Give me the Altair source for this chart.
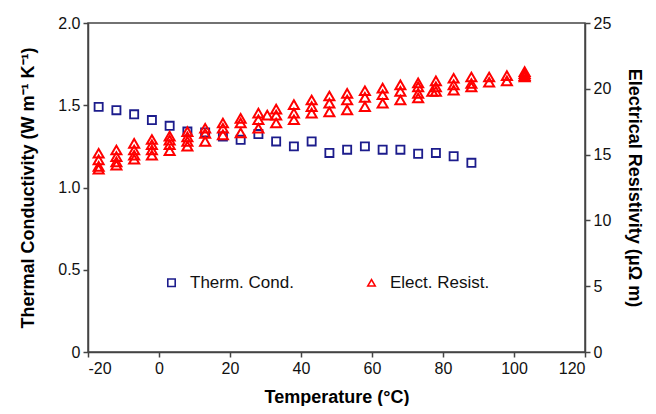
import altair as alt
import pandas as pd

# Thermal conductivity (left axis)
therm_temp = [-17, -12, -7, -2, 3, 8, 13, 18, 23, 28, 33, 38, 43, 48, 53, 58, 63, 68, 73, 78, 83, 88]
therm_val = [1.49, 1.47, 1.445, 1.41, 1.375, 1.34, 1.335, 1.31, 1.29, 1.325, 1.28, 1.25,
             1.28, 1.21, 1.23, 1.25, 1.23, 1.23, 1.205, 1.21, 1.19, 1.15]

# Electrical resistivity (right axis), several runs
res_temp = [
    -17, -17, -17, -17,
    -12, -12, -12, -12,
    -7, -7, -7, -7,
    -2, -2, -2, -2,
    3, 3, 3, 3,
    8, 8, 8, 8,
    13, 13, 13,
    18, 18, 18,
    23, 23, 23,
    28, 28, 28, 30.5,
    33, 33, 33,
    38, 38, 38,
    43, 43, 43,
    48, 48, 48,
    53, 53, 53,
    58, 58, 58,
    63, 63, 63,
    68, 68, 68,
    73, 73, 73, 73,
    77, 78, 78, 78,
    83, 83, 83,
    88, 88, 88,
    93, 93,
    98, 98,
    103, 103, 103, 103,
]
res_val = [
    15.1, 14.6, 14.1, 13.9,
    15.35, 14.85, 14.45, 14.2,
    15.85, 15.35, 14.95, 14.65,
    16.15, 15.75, 15.35, 14.95,
    16.4, 16.1, 15.75, 15.3,
    16.75, 16.35, 16.0, 15.65,
    17.0, 16.6, 16.0,
    17.4, 17.0, 16.5,
    17.75, 17.4, 16.65,
    18.15, 17.65, 17.0, 18.0,
    18.45, 18.0, 17.4,
    18.8, 18.15, 17.65,
    19.15, 18.65, 18.15,
    19.45, 18.9, 18.25,
    19.65, 19.15, 18.4,
    19.85, 19.35, 18.65,
    20.05, 19.55, 18.9,
    20.3, 19.8, 19.15,
    20.45, 20.15, 19.65, 19.3,
    19.8, 20.6, 20.15, 19.8,
    20.8, 20.3, 19.9,
    20.9, 20.4, 20.15,
    20.9, 20.5,
    21.0, 20.6,
    21.3, 21.15, 21.0, 20.9,
]

series_names = ["Therm. Cond.", "Elect. Resist."]

therm_df = pd.DataFrame({"T": therm_temp, "v": therm_val, "series": series_names[0]})
res_df = pd.DataFrame({"T": res_temp, "v": res_val, "series": series_names[1]})

FONT = "Liberation Sans"

color_scale = alt.Scale(domain=series_names, range=["#1c1c8c", "#ff0000"])
shape_scale = alt.Scale(domain=series_names, range=["square", "triangle-up"])

x_enc = alt.X("T:Q", scale=alt.Scale(domain=[-20, 120], nice=False),
              axis=alt.Axis(title="Temperature (°C)", values=list(range(-20, 121, 20)),
                            labelExpr="datum.value < 0 ? '-' + abs(datum.value) : '' + datum.value",
                            titlePadding=12))

legend = alt.Legend(title=None, orient="none", direction="horizontal",
                    legendX=75, legendY=251)

therm = alt.Chart(therm_df).mark_point(filled=False, strokeWidth=1.8, size=66, opacity=1).encode(
    x=x_enc,
    y=alt.Y("v:Q", scale=alt.Scale(domain=[0, 2], nice=False),
            axis=alt.Axis(title="Thermal Conductivity (W m⁻¹ K⁻¹)", values=[0, 0.5, 1.0, 1.5, 2.0],
                          labelExpr="datum.value == 0 ? '0' : format(datum.value, '.1f')",
                          titlePadding=20)),
    color=alt.Color("series:N", scale=color_scale, legend=legend),
    shape=alt.Shape("series:N", scale=shape_scale, legend=legend),
)

res = alt.Chart(res_df).mark_point(filled=False, strokeWidth=2, size=100, opacity=1).encode(
    x=x_enc,
    y=alt.Y("v:Q", scale=alt.Scale(domain=[0, 25], nice=False),
            axis=alt.Axis(title="Electrical Resistivity (μΩ m)", orient="right",
                          values=list(range(0, 26, 5)), titlePadding=14)),
    color=alt.Color("series:N", scale=color_scale, legend=legend),
    shape=alt.Shape("series:N", scale=shape_scale, legend=legend),
)

chart = alt.layer(therm, res).resolve_scale(y="independent").properties(
    width=497, height=329,
    autosize=alt.AutoSizeParams(type="none"),
    padding={"left": 80, "top": 15, "right": 63, "bottom": 54},
    background="white",
).configure_view(
    stroke="#444", strokeWidth=1.5
).configure_axis(
    grid=False, labelFont=FONT, titleFont=FONT, labelFontSize=16, titleFontSize=18,
    titleFontWeight="bold", labelColor="#111", titleColor="#000",
    domainColor="#444", domainWidth=1.5, tickColor="#444", tickWidth=1.5, tickSize=5,
    labelPadding=3,
).configure_legend(
    labelFont=FONT, labelFontSize=17, labelColor="#111", symbolSize=55,
    symbolStrokeWidth=1.6, symbolOpacity=1, columnPadding=69, labelOffset=10,
    labelLimit=300,
)

chart.save("out.html", embed_options={"renderer": "svg", "actions": False})
